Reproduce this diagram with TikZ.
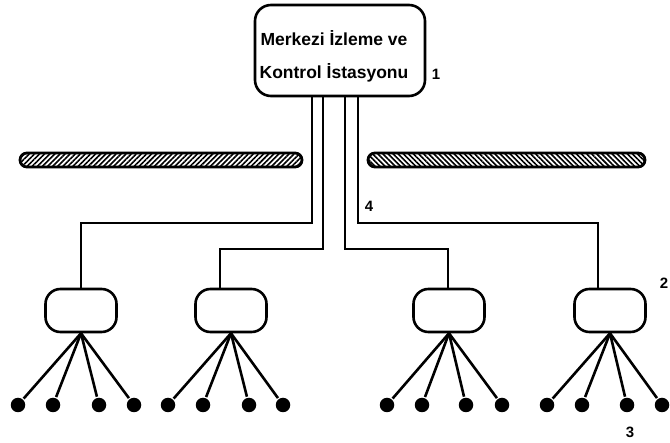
\documentclass[tikz,border=0pt]{standalone}
\usepackage{fontspec}
\setmainfont{Liberation Sans}
\usetikzlibrary{patterns.meta,calc}
\begin{document}
\begin{tikzpicture}[x=1pt,y=-1pt, line width=2.6pt,
  mainbox/.style={draw, rounded corners=16pt, minimum width=170pt, minimum height=91pt, inner sep=0pt},
  maintxt/.style={align=center, inner sep=0pt, font=\bfseries\fontsize{17.5}{33}\selectfont},
  unitbox/.style={draw, rounded corners=15pt, minimum width=71pt, minimum height=43pt, inner sep=0pt},
  leaf/.style={circle, fill=black, minimum size=14.5pt, inner sep=0pt},
  bar/.style={draw, rounded corners=7pt, line width=2.8pt, minimum height=14pt, inner sep=0pt},
  num/.style={font=\bfseries\fontsize{15}{15}\selectfont, inner sep=0pt}]
\useasboundingbox (0,0) rectangle (670,443);

% central station
\node[mainbox] (main) at (340,50.5) {};
\node[maintxt] (maintext) at (334,56) {Merkezi İzleme ve\\Kontrol İstasyonu};
\node[num] (lab1) at (436,74) {1};

% hatched bars
\node[bar, minimum width=282pt, pattern={Lines[angle=45,distance=3.6pt,line width=1.6pt]}] (barl) at (161,160) {};
\node[bar, minimum width=277pt, pattern={Lines[angle=-45,distance=3.6pt,line width=1.6pt]}] (barr) at (506.5,160) {};

% sub units
\node[unitbox] (n1) at (81,310.5) {};
\node[unitbox] (n2) at (231,310.5) {};
\node[unitbox] (n3) at (449,310.5) {};
\node[unitbox] (n4) at (610,310.5) {};

% connection points
\coordinate (o1) at ($(main.south)+(-28,0)$);
\coordinate (o2) at ($(main.south)+(-17,0)$);
\coordinate (o3) at ($(main.south)+(5,0)$);
\coordinate (o4) at ($(main.south)+(18,0)$);
\coordinate (t1) at (n1.north);
\coordinate (t2) at ($(n2.north)+(-11,0)$);
\coordinate (t3) at ($(n3.north)+(-1,0)$);
\coordinate (t4) at ($(n4.north)+(-12,0)$);
\coordinate (h1) at (0,223);
\coordinate (h2) at (0,249);

\draw (o1) |- (h1 -| t1) -- (t1);
\draw (o2) |- (h2 -| t2) -- (t2);
\draw (o3) |- (h2 -| t3) -- (t3);
\draw (o4) |- (h1 -| t4) -- (t4);

% leaves
\foreach \n/\a/\b/\c/\d in {1/18/53/99/134, 2/168/203/249/283, 3/387/422/466/502, 4/547/582/627/662}{
  \node[leaf] (l\n a) at (\a,405) {};
  \node[leaf] (l\n b) at (\b,405) {};
  \node[leaf] (l\n c) at (\c,405) {};
  \node[leaf] (l\n d) at (\d,405) {};
  \draw (n\n.south) -- (l\n a);
  \draw (n\n.south) -- (l\n b);
  \draw (n\n.south) -- (l\n c);
  \draw (n\n.south) -- (l\n d);
}

\node[num] (lab4) at (369,206) {4};
\node[num] (lab2) at (664,283) {2};
\node[num] (lab3) at (630,432) {3};
\end{tikzpicture}
\end{document}
